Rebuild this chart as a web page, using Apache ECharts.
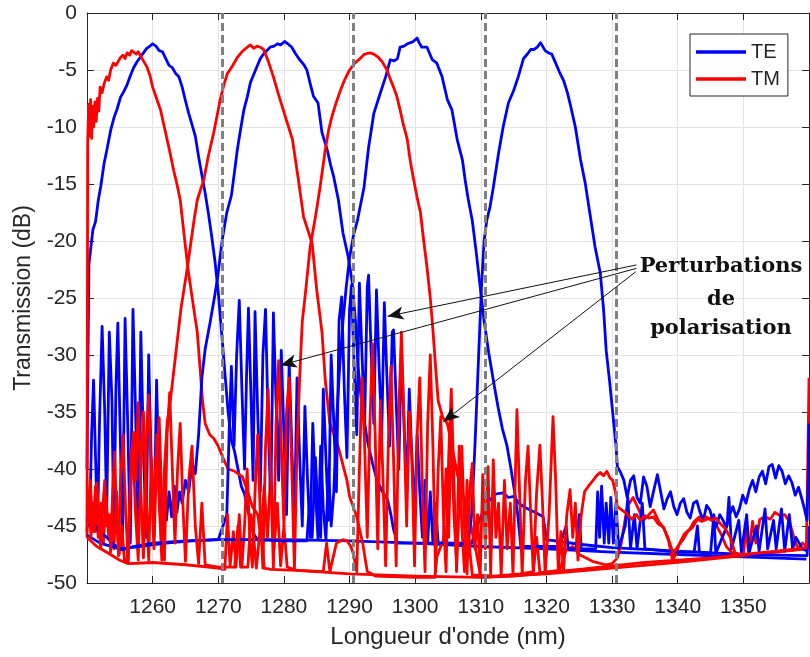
<!DOCTYPE html>
<html lang="fr">
<head>
<meta charset="UTF-8">
<title>Transmission TE / TM</title>
<script src="https://cdn.jsdelivr.net/npm/echarts@6.0.0/dist/echarts.min.js"></script>
<style>
    html, body { margin: 0; padding: 0; background: #fff; }
    #chart { width: 810px; height: 657px; }
</style>
</head>
<body>
<div id="chart"></div>
<script type="text/javascript">
// --- TE (bleu) : un canal par courbe, pics vers 1260 / 1280 / 1300 / 1319 nm
var teCh1 = [[1250,-40],[1250.15,-30],[1250.3,-22],[1250.6,-20.5],[1250.9,-19],[1251.3,-18.3],[1251.7,-16.5],[1252.1,-15.2],[1252.6,-13.2],[1253.1,-11.8],[1253.6,-10.3],[1254.1,-9.2],[1254.6,-8.4],[1255.1,-7.4],[1255.6,-6.9],[1256.1,-6.3],[1256.6,-5.5],[1257.1,-4.8],[1257.6,-4.3],[1258.1,-3.9],[1258.6,-3.5],[1259.1,-3.1],[1259.6,-2.9],[1260,-2.7],[1260.5,-2.9],[1261,-3.3],[1261.5,-3.4],[1262,-4.0],[1262.5,-4.6],[1263,-4.8],[1263.5,-5.3],[1264,-5.6],[1264.5,-6.5],[1265,-7.7],[1265.5,-8.8],[1266,-9.8],[1266.5,-10.8],[1267,-12.6],[1267.5,-14.2],[1268,-15.8],[1268.5,-17.6],[1269,-19.6],[1269.5,-21.8],[1270,-24.5],[1270.5,-28],[1271,-31.5],[1271.5,-35],[1272,-37.5],[1272.5,-38.5],[1273,-40],[1273.5,-41.5],[1274,-42.2],[1274.5,-43.6],[1275,-44.8],[1275.5,-45.8],[1276,-46.2],[1280,-46.2],[1290,-46.3],[1300,-46.5],[1310,-46.8],[1320,-47.0],[1330,-47.3],[1340,-47.5],[1350,-47.7],[1359.6,-47.9]];

var teCh2 = [[1250,-44.2],[1250.4,-45],[1250.7,-37],[1251,-32.2],[1251.3,-39],[1251.6,-45.5],[1251.9,-36],[1252.3,-27.5],[1252.7,-35],[1253,-44],[1253.4,-28],[1253.8,-34],[1254.1,-46],[1254.4,-33],[1254.7,-27.2],[1255.1,-38],[1255.4,-47],[1255.8,-26.8],[1256.2,-36],[1256.6,-46.5],[1257,-26],[1257.4,-35],[1257.8,-46.2],[1258.2,-28],[1258.6,-38],[1259,-46],[1259.4,-30],[1259.8,-40],[1260.2,-46],[1260.6,-32.2],[1261,-42],[1261.3,-45.5],[1261.7,-43],[1262.1,-44.5],[1262.5,-42],[1262.9,-44.2],[1263.3,-41.5],[1263.7,-43.8],[1264.1,-42],[1264.5,-43],[1265,-41],[1265.5,-42],[1266,-39.5],[1266.5,-40.4],[1267,-37],[1267.5,-32],[1268,-29.5],[1268.8,-27],[1269.4,-25],[1269.9,-23.2],[1270.6,-19.9],[1271.3,-17.5],[1272,-16],[1272.5,-13.8],[1272.9,-12],[1273.4,-10.2],[1273.9,-8.5],[1274.4,-7.4],[1274.9,-6.1],[1275.4,-5.4],[1275.9,-4.7],[1276.4,-4.0],[1276.9,-3.6],[1277.4,-3.3],[1277.9,-3.0],[1278.5,-2.9],[1279,-2.7],[1279.5,-2.8],[1280.1,-2.5],[1280.6,-2.7],[1281.2,-3.0],[1281.8,-3.6],[1282.4,-4.1],[1283,-4.5],[1283.5,-5.0],[1284,-6.2],[1284.5,-7.3],[1285.2,-7.9],[1285.8,-10.5],[1286.6,-12],[1287.1,-13.3],[1287.6,-14.4],[1288.3,-16.4],[1289,-19.3],[1289.8,-21.4],[1290.4,-23.6],[1290.9,-27],[1291.3,-31],[1291.8,-34],[1292.7,-37.5],[1293.5,-39.5],[1294.2,-41],[1295,-42],[1295.8,-42.7],[1296.3,-44],[1296.7,-45.3],[1297.3,-46.5],[1300,-46.5],[1305,-46.5],[1308.6,-46.5],[1309.3,-45.3],[1309.9,-44.3],[1310.6,-43.4],[1311.4,-42.7],[1312.2,-42.2],[1313.4,-42.1],[1314.2,-42.5],[1315,-42.4],[1315.8,-43],[1316.5,-43.3],[1317.5,-43.6],[1318.6,-43.9],[1319.5,-44.2],[1320,-46.2],[1325,-46.6],[1330,-46.9],[1340,-47.2],[1350,-47.5],[1359.7,-47.6],[1360,-45]];

var teCh3 = [[1250,-45.8],[1252,-46.5],[1255,-47],[1258,-46.8],[1262,-46.5],[1266,-46.3],[1270,-46.2],[1271.3,-44],[1271.7,-36],[1272,-31],[1272.4,-38],[1272.8,-30],[1273.2,-25.2],[1273.6,-33],[1274,-40],[1274.3,-32],[1274.6,-25.9],[1275,-34],[1275.3,-41],[1275.6,-26.2],[1276,-35],[1276.4,-42],[1276.8,-30],[1277.2,-26],[1277.6,-36],[1278,-43],[1278.4,-26.3],[1278.8,-34],[1279.2,-41],[1279.6,-29.6],[1280,-37],[1280.4,-44],[1280.8,-30.5],[1281.2,-38],[1281.6,-45],[1282,-32],[1282.4,-39],[1282.8,-45],[1283.2,-34.5],[1283.6,-41],[1284,-46],[1284.4,-36],[1284.8,-42],[1285.2,-46.2],[1285.6,-38],[1286,-43.5],[1286.4,-46.2],[1286.8,-40],[1287.2,-45],[1287.6,-42],[1288,-36],[1288.5,-31],[1289,-27],[1289.5,-24],[1290,-21.5],[1290.6,-19.5],[1291.2,-18.2],[1292.2,-15.3],[1292.9,-11.8],[1293.7,-8.8],[1294.7,-7],[1295.5,-5.6],[1296.2,-4.1],[1296.8,-4.2],[1297.3,-4],[1297.7,-3],[1298.3,-2.9],[1298.8,-2.7],[1299.3,-2.6],[1299.7,-2.5],[1300.3,-2.2],[1300.6,-2.6],[1301,-3],[1301.8,-3],[1302.6,-4.1],[1303.3,-4.4],[1304.1,-5.6],[1304.9,-7.6],[1305.6,-8.5],[1306.4,-11.1],[1307.2,-12.9],[1307.6,-14.6],[1308.1,-16.4],[1308.7,-18.2],[1309.3,-21],[1309.9,-24],[1310.5,-27],[1311.2,-29.8],[1311.9,-32.2],[1312.6,-34.5],[1313.3,-36.5],[1314,-38],[1314.6,-40],[1315.2,-42.2],[1315.6,-43.9],[1316.1,-46.8],[1320,-46.8],[1322,-46.8],[1323,-45],[1323.3,-47],[1324.5,-47],[1325,-44],[1325.3,-47],[1327.5,-47],[1327.8,-42],[1328.1,-46],[1328.4,-41.5],[1328.8,-46.5],[1329.1,-43],[1329.5,-46.5],[1329.8,-42.5],[1330.2,-46.5],[1330.6,-43],[1331,-47],[1332,-45],[1332.4,-42.5],[1332.8,-47],[1333.4,-44],[1333.8,-47],[1334.6,-43],[1335,-47],[1340,-47.3],[1342.5,-47.3],[1343,-45],[1343.3,-47.3],[1345,-47.4],[1345.5,-44],[1345.8,-47.4],[1347.5,-45],[1347.8,-42.5],[1348.2,-47],[1349.3,-44.5],[1349.7,-47.3],[1350.5,-44],[1350.9,-47.3],[1352,-45],[1352.4,-47.2],[1353.3,-43.5],[1353.7,-47],[1354.6,-44.5],[1355,-47],[1355.8,-43.5],[1356.3,-47.2],[1357,-44],[1357.5,-47],[1358,-46],[1359,-47],[1359.7,-47.2]];

var teCh4 = [[1250,-44.2],[1251,-44.8],[1252,-45.5],[1253,-46],[1254,-46.6],[1255.4,-47.1],[1257,-46.8],[1260,-46.5],[1265,-46.3],[1270,-46.2],[1275,-46.2],[1280,-46.3],[1283.5,-46.3],[1283.9,-43],[1284.3,-46],[1284.8,-39],[1285.2,-44],[1285.6,-46],[1286,-33],[1286.4,-39],[1286.8,-44.5],[1287.2,-30],[1287.6,-36],[1288,-42],[1288.4,-27],[1288.8,-24.9],[1289.2,-33],[1289.6,-39],[1290,-26],[1290.3,-23.9],[1290.7,-31],[1291.1,-37],[1291.5,-23.7],[1291.9,-30],[1292.3,-36],[1292.7,-24],[1292.9,-23],[1293.3,-30],[1293.7,-36],[1294.1,-24.3],[1294.5,-31],[1294.9,-37],[1295.3,-25.4],[1295.7,-32],[1296.1,-38],[1296.5,-28],[1296.7,-27.8],[1297.1,-34],[1297.5,-40],[1297.9,-29.6],[1298.3,-36],[1298.7,-42],[1299.1,-33],[1299.5,-39],[1299.9,-44],[1300.3,-37],[1300.7,-42],[1301.1,-46],[1301.5,-41],[1301.9,-46.5],[1302.3,-42],[1302.7,-46.5],[1303.1,-43],[1303.5,-46.5],[1305,-46.5],[1308,-46.6],[1308.6,-44],[1309.1,-38],[1309.6,-31],[1310.1,-24],[1310.5,-20],[1310.9,-18.2],[1311.4,-17],[1311.9,-15.3],[1312.7,-12.3],[1313.4,-10],[1314.2,-7.9],[1315,-6.8],[1315.7,-5.6],[1316.5,-4],[1317.1,-3.6],[1317.6,-3.2],[1318.1,-3.2],[1318.6,-3],[1319.1,-2.6],[1319.4,-2.5],[1319.8,-3.3],[1320.3,-3.5],[1320.8,-3.6],[1321.4,-4.4],[1322,-5.2],[1322.6,-5.9],[1323.2,-7],[1323.7,-8.2],[1324.4,-10],[1325.2,-12.9],[1325.9,-14.9],[1326.7,-17.9],[1327.4,-20.5],[1328.2,-22.8],[1328.7,-26],[1329.1,-29.6],[1329.6,-32.2],[1330.1,-35.1],[1330.6,-38],[1330.8,-39.8],[1331.3,-40.3],[1331.8,-41],[1332.3,-42.5],[1332.8,-41],[1333.3,-40.6],[1333.8,-42.5],[1334.3,-43],[1334.8,-40.7],[1335.3,-41.5],[1335.8,-43.3],[1336.3,-42],[1336.9,-40.5],[1337.4,-42],[1337.9,-43.5],[1338.4,-42.6],[1338.9,-42],[1339.4,-43.3],[1339.9,-44],[1340.4,-43],[1340.9,-42.6],[1341.4,-43.8],[1341.9,-44.3],[1342.4,-43],[1342.9,-42.8],[1343.4,-43.8],[1343.9,-44.5],[1344.4,-43.2],[1344.9,-43.6],[1345.4,-44.6],[1345.9,-45],[1346.4,-44],[1346.9,-44.5],[1347.4,-45.1],[1347.9,-44],[1348.4,-43.3],[1348.9,-44.2],[1349.4,-43.5],[1349.9,-42.3],[1350.4,-43],[1350.9,-41.8],[1351.4,-41],[1351.9,-42],[1352.4,-40.7],[1352.9,-40.2],[1353.4,-41.3],[1353.9,-39.8],[1354.4,-39.6],[1354.9,-40.8],[1355.4,-39.7],[1355.9,-40.2],[1356.4,-41.3],[1356.9,-40.6],[1357.4,-41.2],[1357.9,-42.3],[1358.4,-41.6],[1358.9,-42.6],[1359.3,-43.5],[1359.7,-44.5],[1359.9,-40],[1360,-36]];

// --- TM (rouge)
var tmCh1 = [[1250,-46],[1250.05,-30],[1250.1,-11.5],[1250.25,-8],[1250.4,-10.8],[1250.55,-7.6],[1250.7,-11],[1250.85,-8.2],[1251,-10],[1251.2,-7.8],[1251.4,-9.5],[1251.6,-7.5],[1251.8,-8.6],[1252,-6.5],[1252.3,-7],[1252.6,-6.2],[1253,-5.6],[1253.3,-5.9],[1253.6,-5],[1254,-4.4],[1254.4,-4.6],[1254.8,-4.2],[1255.1,-3.9],[1255.5,-3.7],[1255.8,-4],[1256.1,-3.5],[1256.5,-3.7],[1256.8,-3.3],[1257.1,-3.3],[1257.5,-3.6],[1257.8,-3.4],[1258.1,-3.7],[1258.6,-4.2],[1259.1,-4.7],[1259.6,-5.5],[1260,-6.5],[1260.6,-7.5],[1261.2,-8.5],[1261.7,-9.8],[1262.2,-11.1],[1262.7,-12.4],[1263.2,-13.8],[1263.7,-15],[1264.2,-16.4],[1264.8,-19.5],[1265.4,-22.5],[1266.1,-25.3],[1266.8,-28],[1267.2,-31],[1267.6,-34],[1268,-36],[1268.7,-37],[1269.3,-37.3],[1270,-38],[1270.7,-39],[1271.5,-40],[1272.5,-40.2],[1273.7,-40.7],[1274.5,-42],[1275.2,-43.3],[1276,-44],[1276.5,-46],[1277,-41.5],[1277.5,-46],[1278,-40],[1278.5,-47],[1279,-43],[1279.5,-48.5],[1280,-45],[1280.5,-48.6],[1282,-48.9],[1290,-49.2],[1300,-49.4],[1310,-49.5],[1320,-49.2],[1330,-48.7],[1340,-48.2],[1350,-47.6],[1359.7,-47]];

var tmCh2 = [[1250,-44.7],[1250.5,-41],[1250.9,-45.5],[1251.3,-41.5],[1251.7,-46],[1252.1,-43],[1252.5,-46.5],[1252.9,-42.5],[1253.3,-46],[1253.7,-44],[1254.1,-47],[1254.5,-42],[1254.9,-47.5],[1255.3,-45],[1255.7,-48],[1256.1,-48.2],[1256.6,-42],[1257,-38],[1257.4,-44],[1257.8,-48],[1258.2,-40],[1258.6,-35],[1259,-42],[1259.4,-48],[1259.8,-39],[1260.2,-44],[1260.6,-37],[1261,-43],[1261.4,-48],[1261.8,-40],[1262.2,-36],[1262.7,-34],[1263.5,-30],[1264.3,-26],[1265.3,-22.3],[1266.3,-18.2],[1266.8,-16.4],[1267.8,-14.6],[1268.5,-12.5],[1269.3,-10.5],[1270.3,-7.6],[1270.9,-6.2],[1271.4,-5.3],[1272.2,-4.6],[1272.9,-3.9],[1273.6,-3.4],[1274.4,-3],[1274.9,-2.8],[1275.4,-3.1],[1275.9,-2.9],[1276.4,-3.0],[1276.9,-3.2],[1277.6,-4.2],[1278.4,-5.6],[1279.1,-7],[1279.9,-8.5],[1280.6,-9.8],[1281.3,-11.1],[1282.2,-14.6],[1283,-17.9],[1284.3,-20.2],[1285,-24.3],[1285.8,-28],[1286.3,-32.2],[1287,-36],[1288.3,-38.1],[1289.6,-41],[1290,-42.4],[1291.1,-44.2],[1292,-46.5],[1292.7,-49],[1294,-49.4],[1300,-49.5],[1303,-49.5],[1303.3,-47.7],[1304.3,-46.2],[1304.7,-40],[1305.1,-46],[1305.5,-36],[1305.9,-44],[1306.3,-48],[1306.7,-38],[1307.1,-45],[1307.5,-49],[1307.9,-41],[1308.3,-47],[1308.7,-49.3],[1312,-49.4],[1316,-49.2],[1318,-49],[1318.5,-46],[1319,-49.1],[1322,-48.9],[1323,-47.1],[1324,-46.8],[1325,-47.5],[1327,-48.1],[1329,-48.4],[1330,-48.3],[1330.8,-47.8],[1331.4,-46.5],[1331.9,-44.7],[1332.4,-43.2],[1333.2,-42.5],[1334,-43.5],[1334.8,-44.5],[1335.6,-44],[1336.3,-43.6],[1337.1,-44.6],[1337.9,-45.2],[1338.6,-46.3],[1339.2,-48],[1339.7,-47.5],[1340.3,-46.5],[1341,-45.7],[1341.8,-45.3],[1342.5,-44.6],[1343.3,-44.2],[1344.1,-44.5],[1345,-44.3],[1345.8,-44.9],[1346.6,-45.7],[1347.4,-46.8],[1348.2,-47.3],[1349,-47.6],[1350,-47.6],[1350.4,-45],[1350.8,-47.5],[1351.4,-44.6],[1351.9,-46.5],[1352.5,-44.4],[1353.3,-44.2],[1354.1,-44.4],[1354.8,-43.8],[1355.6,-44.1],[1356.3,-44],[1357,-44.6],[1357.6,-45.8],[1358.3,-47],[1359,-46.5],[1359.6,-46.8],[1359.8,-40],[1360,-32]];

var tmCh3 = [[1250,-46],[1251.5,-46.8],[1253,-47.3],[1255,-48],[1256.3,-48.3],[1260,-48.2],[1265,-48.4],[1270,-48.7],[1271,-48.8],[1271.4,-44],[1271.8,-48.5],[1272.3,-45.5],[1272.7,-48.6],[1273.2,-44],[1273.6,-48.6],[1274,-45],[1274.4,-40],[1274.8,-46],[1275.2,-48.6],[1275.6,-42],[1276,-37],[1276.4,-44],[1276.8,-48.7],[1277.2,-38],[1277.6,-33],[1278,-41],[1278.4,-48.7],[1278.8,-36],[1279.2,-30.5],[1279.6,-38],[1280,-45],[1280.4,-35],[1280.8,-32],[1281.2,-40],[1281.6,-48.8],[1282,-38],[1282.4,-32],[1282.8,-27],[1283.2,-25],[1284,-20.5],[1284.8,-17.9],[1285.5,-15.3],[1286.3,-12],[1286.8,-10.3],[1287.3,-9.1],[1288,-7.8],[1288.6,-6.8],[1289.3,-5.8],[1290,-5],[1290.8,-4.4],[1291.6,-4],[1292.3,-3.6],[1293.1,-3.5],[1293.7,-3.6],[1294.4,-3.9],[1295,-4.3],[1295.7,-5],[1296.2,-5.8],[1296.7,-6.5],[1297.2,-7.3],[1297.7,-8.5],[1298.2,-9.8],[1298.8,-11.1],[1299.2,-12.8],[1299.7,-14.4],[1300.3,-16.2],[1300.8,-17.5],[1301.3,-20],[1301.8,-22.3],[1302.3,-25],[1302.7,-27.8],[1303.1,-31],[1303.5,-34],[1304.2,-35.5],[1304.9,-36],[1305.6,-38],[1306.4,-40.4],[1307.1,-42],[1307.9,-43.3],[1308.5,-45],[1309.2,-47],[1310,-49.5],[1315,-49.4],[1320,-49.1],[1325,-48.8],[1330,-48.5],[1335,-48.2],[1340,-48],[1345,-47.8],[1350,-47.5],[1355,-47.2],[1359.7,-46.9]];

var tmCh4 = [[1250,-45.5],[1250.3,-42],[1250.6,-46],[1250.9,-43],[1251.2,-45.5],[1251.5,-41.2],[1251.8,-44.5],[1252.1,-47],[1252.4,-43.5],[1252.7,-41],[1253,-45],[1253.3,-44],[1253.6,-47.3],[1253.9,-42],[1254.2,-38.5],[1254.5,-44],[1254.8,-47.6],[1255.1,-41],[1255.5,-37],[1255.9,-44],[1256.3,-48.2],[1256.7,-39],[1257.1,-36.8],[1257.4,-41],[1257.8,-34.2],[1258.2,-42],[1258.6,-47.8],[1259,-38],[1259.4,-33.5],[1259.8,-41],[1260.2,-47],[1260.6,-39],[1261,-35.5],[1261.4,-43],[1261.8,-48],[1262.2,-37],[1262.6,-33.3],[1263,-40],[1263.4,-46.5],[1263.8,-40],[1264.2,-36],[1264.6,-43],[1265,-48.1],[1265.5,-41],[1266,-38],[1266.5,-45],[1267,-48.3],[1267.5,-43],[1268,-48.4],[1270,-48.6],[1272.5,-48.6],[1273,-45],[1273.4,-48.6],[1274.5,-48.6],[1275,-44],[1275.4,-46],[1275.8,-48.7],[1276.5,-44.5],[1277,-48.7],[1278,-48.8],[1282,-48.9],[1286,-49],[1286.5,-46.5],[1287,-49],[1288,-46.5],[1289,-46.2],[1289.6,-46.3],[1290.2,-46.8],[1290.6,-47.5],[1291.1,-49],[1291.5,-40],[1291.9,-32],[1292.3,-38],[1292.7,-46],[1293.1,-36],[1293.5,-29],[1293.9,-37],[1294.3,-47],[1294.7,-34],[1295.1,-41],[1295.5,-48.5],[1295.9,-38],[1296.3,-31],[1296.7,-39],[1297.1,-48.5],[1297.5,-35],[1297.9,-28],[1298.3,-36],[1298.7,-45],[1299.1,-35],[1299.5,-39],[1299.9,-48.5],[1300.3,-37],[1300.7,-32],[1301.1,-42],[1301.5,-49],[1301.9,-36],[1302.3,-30],[1302.7,-38],[1303.1,-49],[1303.5,-40],[1303.9,-35.4],[1304.3,-44],[1304.7,-49],[1305.1,-39],[1305.5,-33],[1305.9,-41],[1306.3,-49],[1306.7,-43],[1307.1,-38],[1307.5,-45],[1307.9,-49.2],[1308.3,-42],[1308.7,-39.5],[1309.1,-47],[1309.5,-44],[1309.9,-49.3],[1310.3,-40.5],[1310.7,-47],[1311.1,-39.8],[1311.5,-49.3],[1311.9,-39.2],[1312.3,-46],[1312.7,-43],[1313.1,-49.3],[1313.6,-41],[1314,-47],[1314.5,-43],[1314.9,-49.3],[1315.5,-34.8],[1315.9,-42],[1316.3,-49.2],[1316.8,-41],[1317.2,-38],[1317.6,-44],[1318,-49.2],[1318.5,-42],[1319,-37.9],[1319.4,-43],[1319.8,-49.2],[1320.4,-44],[1321,-35.4],[1321.4,-41],[1321.8,-49],[1322.2,-45.5],[1322.6,-49],[1323.1,-44],[1323.6,-41.8],[1324,-46],[1324.4,-43],[1324.8,-48],[1325.3,-44],[1325.8,-42],[1326.4,-41.5],[1327.1,-41],[1327.6,-40.6],[1328.2,-40.3],[1328.7,-40.6],[1329.2,-40.2],[1329.7,-40.8],[1330.1,-41],[1330.5,-42],[1330.8,-43.3],[1331.5,-43.6],[1332.2,-43.9],[1333,-44.4],[1333.7,-44],[1334.3,-44.5],[1335,-44.1],[1335.6,-44.3],[1336.3,-44.2],[1337,-44.8],[1337.8,-45.1],[1338.5,-46],[1339.3,-47.4],[1340,-46.8],[1340.8,-46.2],[1341.5,-45.5],[1342.3,-45.1],[1343,-44.4],[1343.7,-44.6],[1344.4,-44.2],[1345.1,-44.5],[1345.8,-44.3],[1346.5,-44.8],[1347.2,-45.2],[1348,-46],[1348.7,-47.3],[1349.5,-47.5]];

// séparations des canaux (tirets gris) et annotation
var channelEdges = [1270.6, 1290.6, 1310.6, 1330.7];
var arrowStarts = [[1333.7, -22.1], [1333.7, -22.4], [1333.6, -22.7]];
var arrowTips = [[1295.8, -26.6], [1279.5, -30.9], [1304.3, -35.85]];
var noteLines = ['Perturbations', 'de', 'polarisation'];

var BLUE = '#0000ff', RED = '#ff0000', INK = '#262626';

function curve(name, color, data) {
    return {
        name: name, type: 'line', data: data,
        showSymbol: false, symbol: 'none', animation: false,
        lineStyle: { color: color, width: 2.8, join: 'round' },
        itemStyle: { color: color },
        emphasis: { disabled: true }
    };
}

var series = [
    curve('TE', BLUE, teCh1),
    curve('TM', RED, tmCh1),
    curve('TE', BLUE, teCh2),
    curve('TM', RED, tmCh2),
    curve('TE', BLUE, teCh3),
    curve('TM', RED, tmCh3),
    curve('TE', BLUE, teCh4),
    curve('TM', RED, tmCh4),
    {
        type: 'line', data: [], z: 5, animation: false,
        markLine: {
            silent: true, symbol: 'none', animation: false,
            label: { show: false },
            lineStyle: { color: '#808080', width: 3, type: [8, 4] },
            data: channelEdges.map(function (x) { return { xAxis: x }; })
        }
    },
    {
        type: 'line', data: [], z: 6, animation: false,
        markLine: {
            silent: true, symbol: ['none', 'arrow'], symbolSize: [10, 16], animation: false,
            label: { show: false },
            lineStyle: { color: '#111', width: 1, type: 'solid' },
            data: arrowStarts.map(function (s, i) { return [{ coord: s }, { coord: arrowTips[i] }]; })
        }
    }
];

var dom = document.getElementById('chart');
var myChart = echarts.init(dom, null, { renderer: 'canvas' });
var option = {
    animation: false,
    backgroundColor: '#fff',
    grid: { left: 87, right: 1, top: 13, bottom: 74 },
    legend: {
        data: ['TE', 'TM'],
        orient: 'vertical', left: 690, top: 34,
        padding: [7, 8, 6, 6], itemGap: 5,
        itemWidth: 50, itemHeight: 3.5, icon: 'rect',
        borderColor: INK, borderWidth: 1, backgroundColor: '#fff',
        textStyle: { fontFamily: 'Liberation Sans', fontSize: 20, color: INK, lineHeight: 22 },
        selectedMode: false
    },
    xAxis: [{
        type: 'value', min: 1250, max: 1360, interval: 10,
        name: "Longueur d'onde (nm)", nameLocation: 'middle', nameGap: 42,
        nameTextStyle: { fontFamily: 'Liberation Sans', fontSize: 24, color: INK },
        axisLine: { show: true, onZero: false, lineStyle: { color: INK, width: 1 } },
        axisTick: { show: true, inside: true, length: 7, lineStyle: { color: INK } },
        axisLabel: {
            showMinLabel: false, showMaxLabel: false, fontFamily: 'Liberation Sans', fontSize: 21, color: INK, margin: 14,
            formatter: function (v) { return String(v); }
        },
        splitLine: { show: true, lineStyle: { color: '#e3e3e3', width: 1 } }
    }, {
        type: 'value', position: 'top', min: 1250, max: 1360, interval: 10,
        axisLine: { show: true, onZero: false, lineStyle: { color: INK, width: 1 } },
        axisTick: { show: true, inside: true, length: 7, lineStyle: { color: INK } },
        axisLabel: { show: false }, splitLine: { show: false }
    }],
    yAxis: [{
        type: 'value', min: -50, max: 0, interval: 5,
        name: 'Transmission (dB)', nameLocation: 'middle', nameGap: 52,
        nameTextStyle: { fontFamily: 'Liberation Sans', fontSize: 23, color: INK },
        axisLine: { show: true, onZero: false, lineStyle: { color: INK, width: 1 } },
        axisTick: { show: true, inside: true, length: 7, lineStyle: { color: INK } },
        axisLabel: { fontFamily: 'Liberation Sans', fontSize: 21, color: INK, margin: 10 },
        splitLine: { show: true, lineStyle: { color: '#e3e3e3', width: 1 } }
    }, {
        type: 'value', position: 'right', min: -50, max: 0, interval: 5,
        axisLine: { show: true, onZero: false, lineStyle: { color: INK, width: 1 } },
        axisTick: { show: true, inside: true, length: 7, lineStyle: { color: INK } },
        axisLabel: { show: false }, splitLine: { show: false }
    }],
    graphic: noteLines.map(function (t, i) {
        return {
            type: 'text', x: 721, y: [256, 289, 318][i], z: 100,
            style: { text: t, font: 'bold 21px "DejaVu Serif"', fill: '#111', textAlign: 'center', textVerticalAlign: 'top' }
        };
    }),
    series: series
};
if (option && typeof option === "object") {
    myChart.setOption(option, true);
}
</script>
</body>
</html>
